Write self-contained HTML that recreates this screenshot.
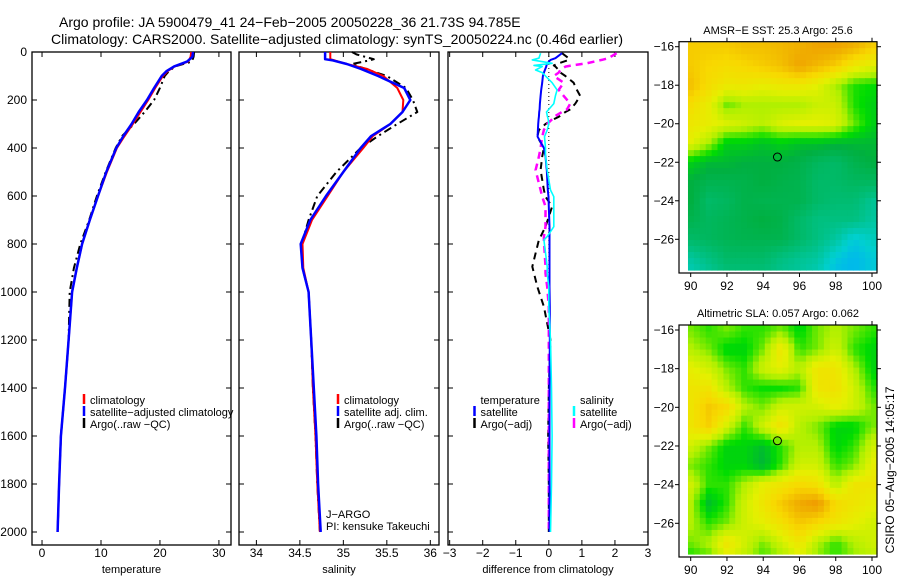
<!DOCTYPE html>
<html><head><meta charset="utf-8"><style>
html,body{margin:0;padding:0;background:#fff}
svg{display:block;font-family:"Liberation Sans",sans-serif}
</style></head><body>
<svg id="fig" width="900" height="580" viewBox="0 0 900 580" xmlns="http://www.w3.org/2000/svg">
<text x="59" y="27" font-size="14">Argo profile: JA 5900479_41 24−Feb−2005 20050228_36 21.73S 94.785E</text>
<text x="51" y="44" font-size="14" textLength="572">Climatology: CARS2000. Satellite−adjusted climatology: synTS_20050224.nc (0.46d earlier)</text>
<g id="g"></g>
</svg>
<script>
// ---- data ----
const depthT = [0,20,40,60,80,100,150,200,250,300,350,400,500,600,700,800,900,1000,1200,1400,1600,1800,2000];
const tempClim = [25.3,25.2,24.8,22.5,21.3,20.5,19.2,18.0,16.7,15.4,14.0,12.7,11.0,9.5,8.1,6.8,5.9,5.1,4.5,3.9,3.2,2.9,2.65];
const tempSat = [25.6,25.5,24.6,22.4,21.1,20.3,19.0,17.8,16.4,15.2,13.8,12.6,10.9,9.5,8.1,6.8,5.9,5.1,4.5,3.9,3.2,2.9,2.65];
const tempArgo = [25.8,25.7,25.4,22.6,21.5,20.8,20.0,19.0,17.4,15.6,13.6,12.5,10.8,9.3,8.0,6.5,5.4,4.7,4.5,3.9,3.2,2.9,2.65];
const depthS = [0,10,30,35,50,70,100,150,200,250,300,350,400,500,600,700,800,900,1000,1200,1400,1600,1800,2000];
const salClim = [34.85,34.85,34.85,34.9,35.04,35.27,35.46,35.62,35.69,35.68,35.54,35.34,35.23,35.0,34.82,34.64,34.53,34.54,34.6,34.63,34.65,34.68,34.70,34.73];
const salSat = [34.79,34.79,34.79,34.88,35.04,35.2,35.4,35.7,35.77,35.68,35.54,35.32,35.2,35.0,34.8,34.62,34.51,34.53,34.6,34.63,34.66,34.69,34.71,34.74];
const salArgo = [35.1,35.15,35.35,35.3,35.1,35.25,35.5,35.72,35.8,35.85,35.62,35.4,35.2,34.92,34.7,34.6,34.52,34.53,34.6,34.63,34.65,34.68,34.70,34.73];
const depthD = [5,26,33,47,56,61,75,86,100,128,158,183,215,239,250,270,280,300,325,353,400,436,492,575,603,644,728,769,783,894,922,978,1061,1200,1400,1600,1800,2000];
const dTsat = [0.4,0.2,0.05,-0.05,-0.07,-0.08,-0.12,-0.15,-0.18,-0.2,-0.23,-0.25,-0.27,-0.28,-0.29,-0.3,-0.31,-0.32,-0.33,-0.34,-0.15,-0.1,-0.06,-0.03,-0.01,0.0,0.02,0.02,0.02,0.02,0.02,0.02,0.03,0.03,0.02,0.02,0.02,0.02];
const dTargo = [0.4,0.6,0.6,0.3,0.15,0.2,0.3,0.35,0.5,0.75,0.85,0.95,0.8,0.65,0.5,0.3,0.15,-0.1,-0.3,-0.35,-0.15,-0.2,-0.25,-0.15,-0.1,0.1,-0.1,-0.25,-0.3,-0.5,-0.45,-0.35,-0.15,0.05,0.0,-0.02,0.0,0.0];
const dSsat = [-0.25,-0.3,-0.5,0.1,-0.45,-0.2,-0.4,-0.2,-0.1,0.1,0.25,0.2,0.15,0.0,-0.07,-0.04,-0.02,0.0,-0.05,-0.13,-0.1,-0.1,-0.05,0.05,0.15,0.15,0.15,-0.05,-0.15,-0.05,-0.05,0.0,0.0,0.05,0.08,0.1,0.08,0.05];
const dSargo = [2.05,1.8,1.6,1.15,0.7,0.5,0.35,0.3,0.15,0.45,0.3,0.45,0.65,0.55,0.4,0.15,0.1,-0.05,-0.15,-0.2,-0.25,-0.3,-0.4,-0.25,-0.2,-0.1,-0.1,-0.15,-0.15,-0.1,-0.1,-0.05,0.0,0.0,0.0,0.0,0.0,0.0];
const depthTicks = [0,200,400,600,800,1000,1200,1400,1600,1800,2000];
const tempTicks = [0,10,20,30];
const salTicks = [34,34.5,35,35.5,36];
const salTickLabels = ["34","34.5","35","35.5","36"];
const diffTicks = [-3,-2,-1,0,1,2,3];
const diffTickLabels = ["−3","−2","−1","0","1","2","3"];
const lonTicks = [90,92,94,96,98,100];
const latTicks = [-16,-18,-20,-22,-24,-26];
const latTickLabels = ["−16","−18","−20","−22","−24","−26"];
const argoLon = 94.785, argoLat = -21.73;
// coarse map fields (rows lat -16..-27.7, cols lon 90..100), 0=blue..1=orange
const sstField = [
[0.85,0.85,0.85,0.88,0.88,0.9,0.92,0.95,0.95,0.92,0.85],
[0.85,0.82,0.8,0.82,0.85,0.88,0.95,0.9,0.85,0.75,0.7],
[0.88,0.8,0.75,0.75,0.72,0.75,0.75,0.7,0.6,0.5,0.48],
[0.8,0.72,0.55,0.6,0.6,0.6,0.6,0.65,0.65,0.5,0.45],
[0.75,0.72,0.68,0.65,0.62,0.68,0.7,0.7,0.68,0.55,0.45],
[0.7,0.6,0.45,0.45,0.42,0.45,0.42,0.42,0.4,0.4,0.4],
[0.45,0.4,0.4,0.38,0.38,0.38,0.36,0.32,0.3,0.35,0.38],
[0.38,0.35,0.35,0.36,0.38,0.36,0.35,0.3,0.3,0.32,0.32],
[0.38,0.3,0.32,0.36,0.35,0.35,0.35,0.3,0.28,0.28,0.22],
[0.35,0.32,0.34,0.36,0.38,0.36,0.3,0.25,0.25,0.25,0.2],
[0.3,0.32,0.34,0.35,0.35,0.35,0.3,0.25,0.2,0.1,0.15],
[0.2,0.25,0.3,0.3,0.3,0.25,0.22,0.2,0.1,0.05,0.1],
[0.15,0.2,0.25,0.25,0.25,0.22,0.2,0.15,0.05,0.05,0.1]];
const slaField = [
[0.5,0.45,0.5,0.45,0.45,0.5,0.4,0.5,0.55,0.5,0.45],
[0.55,0.5,0.4,0.4,0.5,0.7,0.45,0.5,0.6,0.45,0.4],
[0.65,0.6,0.5,0.45,0.6,0.65,0.55,0.7,0.7,0.55,0.4],
[0.7,0.7,0.55,0.45,0.42,0.42,0.45,0.7,0.72,0.6,0.45],
[0.7,0.8,0.75,0.55,0.5,0.6,0.6,0.6,0.65,0.6,0.5],
[0.7,0.78,0.6,0.45,0.6,0.72,0.55,0.5,0.4,0.4,0.5],
[0.6,0.5,0.4,0.4,0.35,0.45,0.55,0.55,0.4,0.45,0.6],
[0.5,0.45,0.4,0.4,0.33,0.45,0.6,0.6,0.45,0.5,0.65],
[0.6,0.45,0.45,0.55,0.65,0.7,0.75,0.72,0.55,0.7,0.7],
[0.55,0.35,0.45,0.6,0.7,0.8,0.88,0.92,0.75,0.7,0.65],
[0.55,0.45,0.5,0.6,0.65,0.72,0.8,0.75,0.7,0.65,0.6],
[0.5,0.55,0.7,0.6,0.5,0.6,0.7,0.55,0.45,0.55,0.6],
[0.4,0.45,0.6,0.55,0.45,0.5,0.6,0.5,0.45,0.5,0.55]];

// ---- drawing ----
const NS="http://www.w3.org/2000/svg";
const G=document.getElementById('g');
function mk(tag,attrs,parent){const e=document.createElementNS(NS,tag);for(const k in attrs)e.setAttribute(k,attrs[k]);(parent||G).appendChild(e);return e;}
function txt(x,y,s,size,anchor,parent){const t=mk('text',{x:x,y:y,'font-size':size,'text-anchor':anchor||'start'},parent);t.textContent=s;return t;}
const Y0=52, Y1=532;
function yD(d){return Y0+d*(Y1-Y0)/2000;}
const panels=[
 {x0:32,x1:231,v0:-1.7,v1:32.05,ticks:tempTicks,labels:tempTicks.map(String),title:'temperature',name:'temperature-panel'},
 {x0:239,x1:439,v0:33.8,v1:36.1,ticks:salTicks,labels:salTickLabels,title:'salinity',name:'salinity-panel'},
 {x0:448,x1:648,v0:-3.05,v1:3.0,ticks:diffTicks,labels:diffTickLabels,title:'difference from climatology',name:'difference-panel'}];
panels.forEach(p=>{p.sx=v=>p.x0+(v-p.v0)*(p.x1-p.x0)/(p.v1-p.v0);});
const YB=545;
panels.forEach((p,i)=>{
 const g=mk('g',{});
 
 
 const fr=mk('rect',{x:p.x0,y:Y0,width:p.x1-p.x0,height:YB-Y0,fill:'none',stroke:'#000','stroke-width':1.3},g);
 
 
 p.ticks.forEach((t,j)=>{const x=p.sx(t);
  mk('line',{x1:x,x2:x,y1:YB,y2:YB-5,stroke:'#000'},g);
  mk('line',{x1:x,x2:x,y1:Y0,y2:Y0+5,stroke:'#000'},g);
  const l=txt(x,557,p.labels[j],12,'middle',g);
  
  });
 depthTicks.forEach(d=>{const y=yD(d);
  mk('line',{x1:p.x0,x2:p.x0+5,y1:y,y2:y,stroke:'#000'},g);
  mk('line',{x1:p.x1,x2:p.x1-5,y1:y,y2:y,stroke:'#000'},g);
  if(i===0){const l=txt(27,y+4,String(d),12,'end',g);
   
   }});
 const at=txt((p.x0+p.x1)/2,573,p.title,11,'middle',g);
 
 
});
function line(p,vals,depths,color,w,dash,name){
 const pts=vals.map((v,k)=>p.sx(v).toFixed(1)+','+yD(depths[k]).toFixed(1)).join(' ');
 const a={points:pts,fill:'none',stroke:color,'stroke-width':w,'stroke-linejoin':'round'};
 if(dash)a['stroke-dasharray']=dash;
 const e=mk('polyline',a);
 
 
}
const P=panels;
line(P[0],tempArgo,depthT,'#000',2,'8,4,2,4','temp-argo-line');
line(P[0],tempClim,depthT,'#f00',2,null,'temp-climatology-line');
line(P[0],tempSat,depthT,'#0000ff',2.5,null,'temp-satellite-line');
line(P[1],salArgo,depthS,'#000',2,'8,4,2,4','salinity-argo-line');
line(P[1],salClim,depthS,'#f00',2,null,'salinity-climatology-line');
line(P[1],salSat,depthS,'#0000ff',2.5,null,'salinity-satellite-line');
const zl=mk('line',{x1:P[2].sx(0),x2:P[2].sx(0),y1:Y0,y2:yD(1060),stroke:'#000','stroke-dasharray':'1,3'});


line(P[2],dTargo,depthD,'#000',2,'7,5','temp-diff-argo-line');
line(P[2],dSargo,depthD,'#ff00ff',2.5,'7,5','salinity-diff-argo-line');
line(P[2],dTsat,depthD,'#0000ff',2,null,'temp-diff-satellite-line');
line(P[2],dSsat,depthD,'#00ffff',1.6,null,'salinity-diff-satellite-line');
function legend(x,y0,items,name){const g=mk('g',{});
 
 
 items.forEach((it,k)=>{const y=y0+k*12;
  if(it[1])mk('line',{x1:x,x2:x,y1:y-10,y2:y,stroke:it[1],'stroke-width':2.5},g);
  txt(x+6,y,it[0],11,'start',g);});}
legend(84,404,[['climatology','#f00'],['satellite−adjusted climatology','#00f'],['Argo(..raw −QC)','#000']],'temperature-legend');
legend(338,404,[['climatology','#f00'],['satellite adj. clim.','#00f'],['Argo(..raw −QC)','#000']],'salinity-legend');
legend(474.5,404,[['temperature',null],['satellite','#00f'],['Argo(−adj)','#000']],'temp-diff-legend');
legend(574,404,[['salinity',null],['satellite','#0ff'],['Argo(−adj)','#f0f']],'salinity-diff-legend');
const j1=txt(326,518,'J−ARGO',11);
const j2=txt(326,530,'PI: kensuke Takeuchi',11);
const stops=[[0,[0,168,255]],[0.12,[0,208,208]],[0.25,[0,192,128]],[0.38,[0,176,64]],[0.48,[0,221,0]],[0.6,[176,240,0]],[0.7,[228,240,0]],[0.82,[248,216,0]],[0.92,[240,176,0]],[1,[240,144,0]]];
function cmap(v){v=Math.max(0,Math.min(1,v));for(let i=1;i<stops.length;i++){if(v<=stops[i][0]){const a=stops[i-1],b=stops[i],t=(v-a[0])/(b[0]-a[0]);return 'rgb('+a[1].map((c,k)=>Math.round(c+(b[1][k]-c)*t)).join(',')+')';}}return 'rgb(240,144,0)';}
function field(F,lon,lat){const c=(lon-90)/1, r=Math.min((-16-lat),11.7);const ri=Math.min(Math.floor(r),11),ci=Math.min(Math.floor(c),9);const tr=r-ri,tc=c-ci;const r2=Math.min(ri+1,12);
 return F[ri][ci]*(1-tr)*(1-tc)+F[ri][ci+1]*(1-tr)*tc+F[r2][ci]*tr*(1-tc)+F[r2][ci+1]*tr*tc;}
function map(F,off,fx0,fx1,fy0,fy1,lat16y,lat26y,title,titleY,name){
 const g=mk('g',{});
 
 
 const lx=v=>690.7+(v-90)*(872-690.7)/10, ly=v=>lat16y+(-16-v)*(lat26y-lat16y)/10;
 const lonA=89.85;
 const imgTop=fy0+0.5, imgBot=fy1-3;
 const nx=32, ny=38; const cw=(fx1-lx(lonA))/nx, ch=(imgBot-imgTop)/ny;
 for(let j=0;j<ny;j++)for(let i=0;i<nx;i++){
  const x=lx(lonA)+i*cw, y=imgTop+j*ch;
  const lon=90+(x+cw/2-690.7)*10/(872-690.7), lat=-16-(y+ch/2-lat16y)*10/(lat26y-lat16y);
  mk('rect',{x:x.toFixed(2),y:y.toFixed(2),width:(cw+0.6).toFixed(2),height:(ch+0.6).toFixed(2),fill:cmap(off+field(F,Math.max(90,Math.min(100,lon)),Math.max(-27.7,Math.min(-16,lat))))},g);}
 mk('rect',{x:fx0,y:fy0,width:fx1-fx0,height:fy1-fy0,fill:'none',stroke:'#000','stroke-width':1.2},g);
 lonTicks.forEach(v=>{const x=lx(v);mk('line',{x1:x,x2:x,y1:fy1,y2:fy1+4,stroke:'#000'},g);mk('line',{x1:x,x2:x,y1:fy0,y2:fy0-4,stroke:'#000'},g);
  const l=txt(x,fy1+17,String(v),12,'middle',g);});
 latTicks.forEach((v,k)=>{const y=ly(v);mk('line',{x1:fx0,x2:fx0-4,y1:y,y2:y,stroke:'#000'},g);mk('line',{x1:fx1,x2:fx1+4,y1:y,y2:y,stroke:'#000'},g);
  const l=txt(fx0-5,y+4,latTickLabels[k],12,'end',g);});
 const t=txt((fx0+fx1)/2,titleY,title,11,'middle',g);
 const c=mk('circle',{cx:lx(argoLon),cy:ly(argoLat),r:4,fill:cmap(off+field(F,argoLon,argoLat)),stroke:'#000','stroke-width':1},g);
 
}
map(sstField,0,679,877,41.7,273,46.7,239.3,'AMSR−E SST: 25.3 Argo: 25.6',34,'sst-map');
map(slaField,0.06,679,877,325,557,330,523.3,'Altimetric SLA: 0.057 Argo: 0.062',317,'sla-map');
const st=txt(0,0,'CSIRO 05−Aug−2005 14:05:17',12,'middle');
st.setAttribute('transform','translate(894,470) rotate(-90)');


</script>
</body></html>
